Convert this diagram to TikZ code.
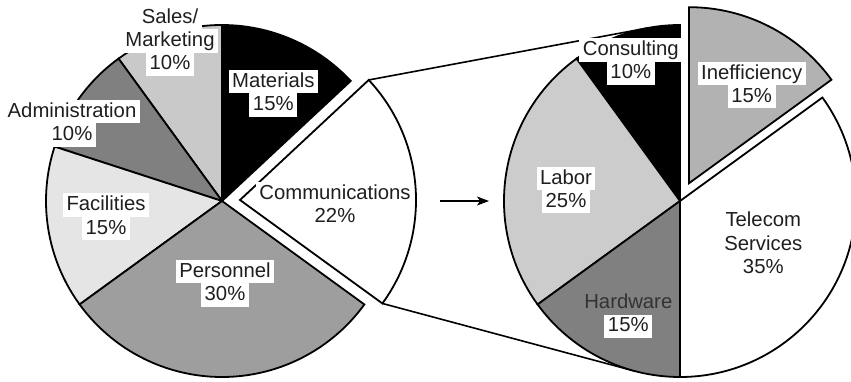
\documentclass[tikz,border=0pt]{standalone}
\usepackage{fontspec}
\setmainfont{Liberation Sans}
\usetikzlibrary{arrows.meta,calc}

\definecolor{salesgray}{gray}{0.79}
\definecolor{admingray}{gray}{0.50}
\definecolor{facgray}{gray}{0.90}
\definecolor{persgray}{gray}{0.62}
\definecolor{laborgray}{gray}{0.80}
\definecolor{hardgray}{gray}{0.50}
\definecolor{ineffgray}{gray}{0.70}
\definecolor{inktext}{gray}{0.12}
\definecolor{hardtext}{gray}{0.20}

% one text line on a tight white strip
\newlength\strippad
\setlength\strippad{2.5pt}
\newcommand\wl[1]{{\setlength\fboxsep{1pt}\colorbox{white}{\kern\strippad\rule[-5pt]{0pt}{21.3pt}#1\kern\strippad}}}

% a wedge of radius 176 around a centre, from one angle to another
\newcommand\pieslice[4]{\draw[slice,fill=#4] (#1) -- ++(#2:176) arc[start angle=#2,end angle=#3,radius=176] -- cycle;}

\begin{document}
\begin{tikzpicture}[x=1pt,y=1pt,
  slice/.style={draw=black,line width=1.8pt,line join=miter},
  zoomline/.style={draw=black,line width=1.6pt},
  lbl/.style={inner sep=0pt,align=center,text=inktext,
    font={\fontsize{20.3}{23.3}\selectfont\lineskiplimit=-30pt}},
  flow/.style={line width=1.6pt,-{Stealth[length=12pt,width=9pt,inset=3pt]}}]
\useasboundingbox (0,0) rectangle (851,381);

% centres of the two pies and of the pulled-out wedges
\coordinate (L) at (222,180);
\coordinate (C) at (240,181);
\coordinate (R) at (680,180);
\coordinate (Rx) at ($(R)+(63:20)$);

% corners of the Communications wedge and tangent points on the right pie
\coordinate (ctop) at ($(C)+(43:176)$);
\coordinate (cbot) at ($(C)+(-36:176)$);
\coordinate (ttop) at ($(R)+(100.6:176)$);
\coordinate (tbot) at ($(R)+(255:176)$);

% zoom lines, behind the right pie
\draw[zoomline] (ctop) -- (ttop);
\draw[zoomline] (cbot) -- (tbot);

% left pie
\pieslice{L}{43}{90}{black}
\pieslice{L}{90}{126}{salesgray}
\pieslice{L}{126}{162}{admingray}
\pieslice{L}{162}{216}{facgray}
\pieslice{L}{216}{324}{persgray}
\pieslice{C}{-36}{43}{white}

% right pie
\pieslice{R}{90}{126}{black}
\pieslice{R}{126}{216}{laborgray}
\pieslice{R}{216}{270}{hardgray}
\pieslice{R}{270}{396}{white}
\pieslice{Rx}{36}{90}{ineffgray}

% arrow between the pies
\coordinate (a1) at (440,180);
\coordinate (a2) at (489,180);
\draw[flow] (a1) -- (a2);

% labels, left pie
\node[lbl] (lsales) at (170,340) {\wl{Sales/}\\\wl{Marketing}\\\wl{10\%}};
\node[lbl] (lmat) at (273.3,287.7) {\wl{Materials}\\\wl{15\%}};
\node[lbl] (ladmin) at (72,257.7) {\wl{Administration}\\\wl{10\%}};
\node[lbl] (lfac) at (106,164.3) {\wl{Facilities}\\\wl{15\%}};
\node[lbl] (lcomm) at (335,175.7) {\wl{Communications}\\\wl{22\%}};
\node[lbl] (lpers) at (225,97.7) {\wl{Personnel}\\\wl{30\%}};

% labels, right pie
\node[lbl] (rcons) at (630.8,319.3) {\wl{Consulting}\\\wl{10\%}};
\node[lbl] (rineff) at (751.7,296) {\wl{Inefficiency}\\\wl{15\%}};
\node[lbl] (rlabor) at (566,191) {\wl{Labor}\\\wl{25\%}};
\node[lbl] (rtele) at (763.3,136.6) {\wl{Telecom}\\\wl{Services}\\\wl{35\%}};
\node[lbl] (rhard) at (628.3,66) {{\color{hardtext}\kern\strippad\kern1pt\rule[-5pt]{0pt}{21.3pt}Hardware\kern1pt\kern\strippad}\\\wl{15\%}};
\end{tikzpicture}
\end{document}
